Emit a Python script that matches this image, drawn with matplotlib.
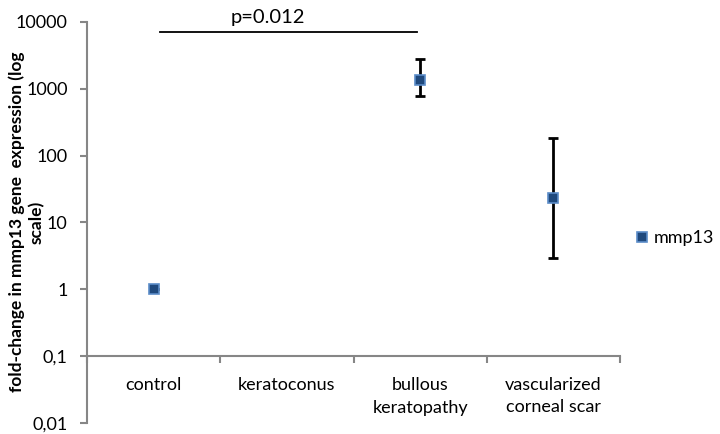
import numpy as np
import matplotlib
matplotlib.use("Agg")
import matplotlib.pyplot as plt
from matplotlib.ticker import FixedLocator, FixedFormatter, NullFormatter

categories = ["control", "keratoconus", "bullous\nkeratopathy", "vascularized\ncorneal scar"]
fold_change = [1.0, np.nan, 1360, 23.5]
err_low = [0, 0, 1360 - 770, 23.5 - 2.9]
err_high = [0, 0, 2750 - 1360, 185 - 23.5]

y_ticks = [0.01, 0.1, 1, 10, 100, 1000, 10000]
y_tick_labels = ["0,01", "0,1", "1", "10", "100", "1000", "10000"]

sig_x = [0.05, 1.98]
sig_y = 7000
sig_text = "p=0.012"

plt.rcParams['font.family'] = ['Lato', 'DejaVu Sans']
fig = plt.figure(figsize=(7.2, 4.34), dpi=100)
ax = fig.add_axes([87 / 720, 11 / 434, 533 / 720, 401 / 434])

x = np.arange(len(categories))
ax.errorbar(x, fold_change, yerr=[err_low, err_high], fmt='none', ecolor='black',
            elinewidth=2, capsize=3.8, capthick=2, zorder=2)
ax.plot(x, fold_change, 's', color='#1F497D', markeredgecolor='#5B8CC8',
        markeredgewidth=1.2, markersize=7.5, linestyle='none', label='mmp13', zorder=3)

ax.set_yscale('log')
ax.set_ylim(0.01, 10000)
ax.set_xlim(-0.5, 3.5)
ax.yaxis.set_major_locator(FixedLocator(y_ticks))
ax.yaxis.set_major_formatter(FixedFormatter(y_tick_labels))
ax.yaxis.set_minor_locator(FixedLocator([]))

# category boundaries as ticks, names drawn below the axis line (which sits at 0.1)
ax.xaxis.set_major_locator(FixedLocator(np.arange(len(categories) + 1) - 0.5))
ax.xaxis.set_major_formatter(NullFormatter())
ax.tick_params(axis='x', which='major', length=5, width=1.5, color='#868686', direction='out')
ax.tick_params(axis='y', length=5, width=1.5, color='#868686', labelsize=13, pad=9)
for xi, cat in zip(x, categories):
    ax.annotate(cat, (xi, 0.1), xytext=(0, -15), textcoords='offset points',
                ha='center', va='top', fontsize=13, linespacing=1.5,
                multialignment='center', annotation_clip=False)

ax.spines['bottom'].set_position(('data', 0.1))
for s in ['top', 'right']:
    ax.spines[s].set_visible(False)
for s in ['left', 'bottom']:
    ax.spines[s].set_color('#868686')
    ax.spines[s].set_linewidth(1.5)

ax.plot(sig_x, [sig_y, sig_y], color='black', linewidth=1.3, clip_on=False)
ax.text(0.86, 11500, sig_text, ha='center', va='center', fontsize=14.5, clip_on=False)

ylab_y = 1 - 222 / 434
fig.text(17 / 720, ylab_y, "fold-change in mmp13 gene  expression (log",
         rotation=90, ha='center', va='center', fontsize=12.5, fontweight='bold')
fig.text(37 / 720, ylab_y, "scale)",
         rotation=90, ha='center', va='center', fontsize=12.5, fontweight='bold')

ax.legend(loc='center left', bbox_to_anchor=(636 / 720, 1 - 238 / 434),
          bbox_transform=fig.transFigure, frameon=False, fontsize=13,
          handlelength=0.7, handletextpad=0.26, borderaxespad=0, borderpad=0)

fig.savefig("out.png", dpi=100)
